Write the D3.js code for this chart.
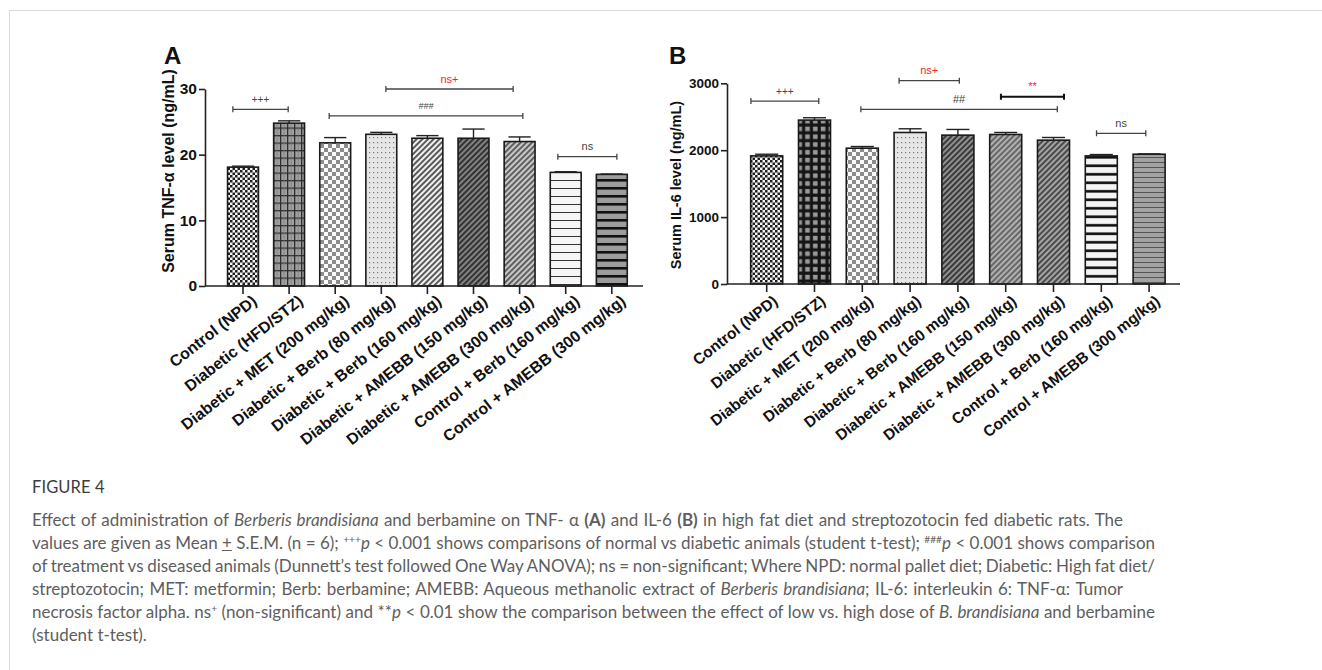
<!DOCTYPE html>
<html>
<head>
<meta charset="utf-8">
<script src="https://cdn.jsdelivr.net/npm/d3@7"></script>
<style>
  body { margin: 0; background: #fff; }
  #wrap { position: relative; width: 1322px; height: 670px; overflow: hidden; background: #fff; }
  #frame { position: absolute; left: 9px; top: 10px; width: 1330px; height: 680px; border: 1.5px solid #dcdcdc; }
  #chart { position: absolute; left: 0; top: 0; }
  #fig { position: absolute; left: 32px; top: 476px; font-family: Lato, "Open Sans", sans-serif; font-size: 16.5px; color: #3c3c3c; line-height: 23px; letter-spacing: 0.1px; }
  #caption { position: absolute; left: 32px; top: 508px; font-family: Lato, "Open Sans", sans-serif; font-size: 15.5px; color: #5e5e5e; line-height: 23px; }
  #caption .line { white-space: nowrap; height: 23px; }
  #caption sup { font-size: 0.6em; vertical-align: 0.6em; line-height: 0; }
</style>
</head>
<body>
<div id="wrap">
  <div id="frame"></div>
  <svg id="chart" width="1322" height="670"></svg>
  <div id="fig">FIGURE 4</div>
  <div id="caption"></div>
</div>
<script>
// ---- data ----
const groupsA = ["Control (NPD)", "Diabetic  (HFD/STZ)", "Diabetic + MET (200 mg/kg)", "Diabetic + Berb (80 mg/kg)",
  "Diabetic + Berb (160 mg/kg)", "Diabetic + AMEBB (150 mg/kg)", "Diabetic + AMEBB (300 mg/kg)",
  "Control + Berb (160 mg/kg)", "Control + AMEBB (300 mg/kg)"];
const groupsB = ["Control (NPD)", "Diabetic (HFD/STZ)", "Diabetic + MET (200 mg/kg)", "Diabetic + Berb (80 mg/kg)",
  "Diabetic + Berb (160 mg/kg)", "Diabetic + AMEBB (150 mg/kg)", "Diabetic + AMEBB (300 mg/kg)",
  "Control + Berb (160 mg/kg)", "Control + AMEBB (300 mg/kg)"];

const tnfMean = [18.1, 24.8, 21.8, 23.1, 22.5, 22.5, 22.0, 17.3, 17.0];
const tnfSem  = [0.15, 0.35, 0.8, 0.3, 0.4, 1.4, 0.7, 0.1, 0.05];
const il6Mean = [1915, 2450, 2030, 2265, 2225, 2235, 2150, 1915, 1940];
const il6Sem  = [25, 35, 25, 55, 85, 30, 40, 20, 5];

const tnfTicks = [0, 10, 20, 30];
const il6Ticks = [0, 1000, 2000, 3000];

// significance brackets: from/to in bar-index units, y in data units
const tnfBrackets = [
  { label: "+++", from: -0.22, to: 0.98, y: 26.9, red: false },
  { label: "###", from: 1.87, to: 6.07, y: 25.9, red: false, italic: true },
  { label: "ns+", from: 3.1, to: 5.86, y: 30.0, red: true },
  { label: "ns", from: 6.83, to: 8.11, y: 19.7, red: false }
];
const il6Brackets = [
  { label: "+++", from: -0.33, to: 1.09, y: 2735, red: false },
  { label: "ns+", from: 2.77, to: 4.03, y: 3039, red: true },
  { label: "##", from: 1.97, to: 6.08, y: 2611, red: false },
  { label: "**", from: 4.9, to: 6.22, y: 2800, red: true, heavy: true },
  { label: "ns", from: 6.9, to: 7.93, y: 2252, red: false }
];

const captionLines = [
  'Effect of administration of <i>Berberis brandisiana</i> and berbamine on TNF- α <b>(A)</b> and IL-6 <b>(B)</b> in high fat diet and streptozotocin fed diabetic rats. The',
  'values are given as Mean <u>+</u> S.E.M. (n = 6); <sup>+++</sup><i>p</i> &lt; 0.001 shows comparisons of normal vs diabetic animals (student t-test); <sup>###</sup><i>p</i> &lt; 0.001 shows comparison',
  'of treatment vs diseased animals (Dunnett’s test followed One Way ANOVA); ns = non-significant; Where NPD: normal pallet diet; Diabetic: High fat diet/',
  'streptozotocin; MET: metformin; Berb: berbamine; AMEBB: Aqueous methanolic extract of <i>Berberis brandisiana</i>; IL-6: interleukin 6: TNF-α: Tumor',
  'necrosis factor alpha. ns<sup>+</sup> (non-significant) and **<i>p</i> &lt; 0.01 show the comparison between the effect of low vs. high dose of <i>B. brandisiana</i> and berbamine',
  '(student t-test).'
];
const captionEnds = [1123, 1155, 1155, 1123, 1155, null];

// ---- drawing ----
const svg = d3.select("#chart");
const defs = svg.append("defs");

function pat(id, w, h, draw, rot) {
  const p = defs.append("pattern").attr("id", id)
    .attr("patternUnits", "userSpaceOnUse").attr("width", w).attr("height", h);
  if (rot) p.attr("patternTransform", `rotate(${rot})`);
  draw(p);
}
function bg(p, w, h, c) { p.append("rect").attr("width", w).attr("height", h).attr("fill", c); }

pat("checkFine", 5, 5, p => {
  bg(p, 5, 5, "#f4f4f4");
  p.append("rect").attr("width", 2.5).attr("height", 2.5).attr("fill", "#1e1e1e");
  p.append("rect").attr("x", 2.5).attr("y", 2.5).attr("width", 2.5).attr("height", 2.5).attr("fill", "#1e1e1e");
});
pat("plaidA", 7, 7.5, p => {
  bg(p, 7, 7.5, "#a0a0a0");
  p.append("rect").attr("width", 1.3).attr("height", 7.5).attr("fill", "#2e2e2e");
  p.append("rect").attr("width", 7).attr("height", 1.3).attr("fill", "#2e2e2e");
  p.append("rect").attr("x", 3.8).attr("width", 0.6).attr("height", 7.5).attr("fill", "#777");
});
pat("blackGrid", 7.8, 7.8, p => {
  bg(p, 7.8, 7.8, "#141414");
  p.append("rect").attr("x", 1.8).attr("y", 1.8).attr("width", 4.6).attr("height", 4.6).attr("fill", "#9a9a9a");
});
pat("checkLarge", 8, 8, p => {
  bg(p, 8, 8, "#fafafa");
  p.append("rect").attr("width", 4).attr("height", 4).attr("fill", "#8c8c8c");
  p.append("rect").attr("x", 4).attr("y", 4).attr("width", 4).attr("height", 4).attr("fill", "#8c8c8c");
});
pat("dots", 4, 5, p => {
  bg(p, 4, 5, "#e6e6e6");
  p.append("rect").attr("x", 1).attr("y", 2).attr("width", 1.2).attr("height", 1.2).attr("fill", "#777");
});
pat("diagLight", 4, 4, p => {
  bg(p, 4, 4, "#f0f0f0");
  p.append("rect").attr("width", 2).attr("height", 4).attr("fill", "#5a5a5a");
}, 45);
pat("diagDark", 4, 4, p => {
  bg(p, 4, 4, "#8a8a8a");
  p.append("rect").attr("width", 2.2).attr("height", 4).attr("fill", "#333");
}, 45);
pat("diagMid", 4, 4, p => {
  bg(p, 4, 4, "#c8c8c8");
  p.append("rect").attr("width", 1.8).attr("height", 4).attr("fill", "#555");
}, 45);
pat("diagDarkB", 4, 4, p => {
  bg(p, 4, 4, "#999");
  p.append("rect").attr("width", 2.2).attr("height", 4).attr("fill", "#3a3a3a");
}, 45);
pat("diagMidB", 4, 4, p => {
  bg(p, 4, 4, "#b0b0b0");
  p.append("rect").attr("width", 1.8).attr("height", 4).attr("fill", "#606060");
}, 45);
pat("diagMid2B", 4, 4, p => {
  bg(p, 4, 4, "#a4a4a4");
  p.append("rect").attr("width", 2).attr("height", 4).attr("fill", "#4a4a4a");
}, 45);
pat("hThin", 8, 8, p => {
  bg(p, 8, 8, "#f6f6f6");
  p.append("rect").attr("y", 4).attr("width", 8).attr("height", 1).attr("fill", "#333");
});
pat("hThickGray", 8, 8, p => {
  bg(p, 8, 8, "#9c9c9c");
  p.append("rect").attr("y", 3).attr("width", 8).attr("height", 2.6).attr("fill", "#111");
});
pat("hThickWhite", 8.5, 8.5, p => {
  bg(p, 8.5, 8.5, "#f4f4f4");
  p.append("rect").attr("y", 3).attr("width", 8.5).attr("height", 2.6).attr("fill", "#0c0c0c");
});
pat("hGrayThin", 5, 5, p => {
  bg(p, 5, 5, "#a2a2a2");
  p.append("rect").attr("y", 2).attr("width", 5).attr("height", 1).attr("fill", "#555");
});

const patternsA = ["checkFine", "plaidA", "checkLarge", "dots", "diagLight", "diagDark", "diagMid", "hThin", "hThickGray"];
const patternsB = ["checkFine", "blackGrid", "checkLarge", "dots", "diagDarkB", "diagMidB", "diagMid2B", "hThickWhite", "hGrayThin"];

const FONT = "'Liberation Sans', Arial, Helvetica, sans-serif";

function drawPanel(cfg) {
  const g = svg.append("g");
  const n = cfg.groups.length;
  const pi = 0.33;

  const y = d3.scaleLinear().domain([0, cfg.yMax]).range([cfg.y0, cfg.yTop]);
  const x = d3.scaleBand().domain(cfg.groups)
    .range([cfg.c0 - cfg.step / 2, cfg.c0 + (n - 0.5) * cfg.step])
    .paddingInner(pi).paddingOuter(pi / 2);
  // index -> pixel, for brackets
  const xi = d3.scaleLinear().domain([0, n - 1])
    .range([x(cfg.groups[0]) + x.bandwidth() / 2, x(cfg.groups[n - 1]) + x.bandwidth() / 2]);

  // bars
  g.selectAll("rect.bar").data(cfg.means).join("rect").attr("class", "bar")
    .attr("x", (d, i) => x(cfg.groups[i]))
    .attr("y", d => y(d))
    .attr("width", x.bandwidth())
    .attr("height", d => cfg.y0 - y(d))
    .attr("fill", (d, i) => `url(#${cfg.patterns[i]})`)
    .attr("stroke", "#1a1a1a").attr("stroke-width", 1.6);

  // error bars (upper half)
  const cap = x.bandwidth() * 0.36;
  const eb = g.selectAll("g.err").data(cfg.means).join("g").attr("class", "err")
    .attr("stroke", "#222").attr("stroke-width", 1.4);
  eb.append("line")
    .attr("x1", (d, i) => x(cfg.groups[i]) + x.bandwidth() / 2)
    .attr("x2", (d, i) => x(cfg.groups[i]) + x.bandwidth() / 2)
    .attr("y1", d => y(d))
    .attr("y2", (d, i) => y(d + cfg.sem[i]));
  eb.append("line")
    .attr("x1", (d, i) => x(cfg.groups[i]) + x.bandwidth() / 2 - cap)
    .attr("x2", (d, i) => x(cfg.groups[i]) + x.bandwidth() / 2 + cap)
    .attr("y1", (d, i) => y(d + cfg.sem[i]))
    .attr("y2", (d, i) => y(d + cfg.sem[i]));

  // y axis
  const ya = g.append("g").attr("transform", `translate(${cfg.axisX},0)`)
    .call(d3.axisLeft(y).tickValues(cfg.ticks).tickFormat(d3.format("d"))
      .tickSize(6).tickSizeOuter(0).tickPadding(2));
  ya.selectAll("path, line").attr("stroke", "#222").attr("stroke-width", 1.6);
  ya.selectAll("text").attr("font-family", FONT).attr("font-weight", "bold")
    .attr("font-size", cfg.tickFont).attr("fill", "#111");

  // x axis
  const xa = g.append("g").attr("transform", `translate(0,${cfg.y0})`)
    .call(d3.axisBottom(x).tickSize(8).tickSizeOuter(0));
  xa.select(".domain").attr("d", `M${cfg.axisX},0H${cfg.axisEnd}`);
  xa.selectAll("path, line").attr("stroke", "#222").attr("stroke-width", 1.6);
  xa.selectAll("text")
    .attr("font-family", FONT).attr("font-weight", "bold").attr("font-size", cfg.labelFont)
    .attr("fill", "#111").attr("text-anchor", "end")
    .attr("y", null).attr("dy", null)
    .attr("transform", `translate(${cfg.lblDx},${cfg.lblDy}) rotate(-38)`);

  // y label
  g.append("text")
    .attr("transform", `translate(${cfg.yLabelX},${cfg.yLabelY}) rotate(-90)`)
    .attr("text-anchor", "middle")
    .attr("font-family", FONT).attr("font-weight", "bold").attr("font-size", cfg.yLabelFont)
    .attr("fill", "#111")
    .text(cfg.yLabel);

  // panel letter
  g.append("text").attr("x", cfg.letterX).attr("y", 64)
    .attr("font-family", FONT).attr("font-weight", "bold").attr("font-size", 24)
    .attr("fill", "#111").text(cfg.letter);

  // brackets
  const br = g.selectAll("g.br").data(cfg.brackets).join("g").attr("class", "br");
  br.append("path")
    .attr("d", d => {
      const a = xi(d.from), b = xi(d.to), yy = y(d.y);
      return `M${a},${yy - 3}V${yy + 3}M${a},${yy}H${b}M${b},${yy - 3}V${yy + 3}`;
    })
    .attr("fill", "none")
    .attr("stroke", d => d.heavy ? "#111" : "#444")
    .attr("stroke-width", d => d.heavy ? 2 : 1.3);
  br.append("text")
    .attr("x", d => (xi(d.from) + xi(d.to)) / 2)
    .attr("y", d => y(d.y) - 6.5)
    .attr("text-anchor", "middle")
    .attr("font-family", FONT)
    .attr("font-size", d => d.label === "+++" ? 10 : (d.italic ? 9 : 11))
    .attr("font-style", d => d.italic ? "italic" : null)
    .attr("fill", d => d.red ? "#f02828" : "#444")
    .text(d => d.label);
}

drawPanel({
  letter: "A", letterX: 164,
  groups: groupsA, means: tnfMean, sem: tnfSem, patterns: patternsA, brackets: tnfBrackets,
  ticks: tnfTicks, yMax: 30, y0: 286, yTop: 89,
  axisX: 205, axisEnd: 643, c0: 243, step: 46.1,
  tickFont: 15.5, labelFont: 16, lblDx: 15, lblDy: 17,
  yLabel: "Serum TNF-α level (ng/mL)", yLabelFont: 16, yLabelX: 174, yLabelY: 171
});

drawPanel({
  letter: "B", letterX: 669,
  groups: groupsB, means: il6Mean, sem: il6Sem, patterns: patternsB, brackets: il6Brackets,
  ticks: il6Ticks, yMax: 3000, y0: 284, yTop: 83.3,
  axisX: 727, axisEnd: 1180, c0: 766.7, step: 47.8,
  tickFont: 13.5, labelFont: 15.5, lblDx: 12, lblDy: 19,
  yLabel: "Serum IL-6 level (ng/mL)", yLabelFont: 14.5, yLabelX: 681, yLabelY: 185
});

// ---- caption ----
const capDiv = d3.select("#caption");
const lines = capDiv.selectAll("div.line").data(captionLines).join("div").attr("class", "line");
const spans = lines.append("span").html(d => d);

const base = 15.5;
const w2 = spans.nodes()[1].getBoundingClientRect().width;
const fs = base * (captionEnds[1] - 32) / w2;
capDiv.style("font-size", fs + "px");
spans.each(function(d, i) {
  if (captionEnds[i] == null) return;
  const w = this.getBoundingClientRect().width;
  const nSp = (this.textContent.match(/ /g) || []).length;
  const ws = (captionEnds[i] - 32 - w) / nSp;
  d3.select(this).style("word-spacing", ws + "px");
});
</script>
</body>
</html>
